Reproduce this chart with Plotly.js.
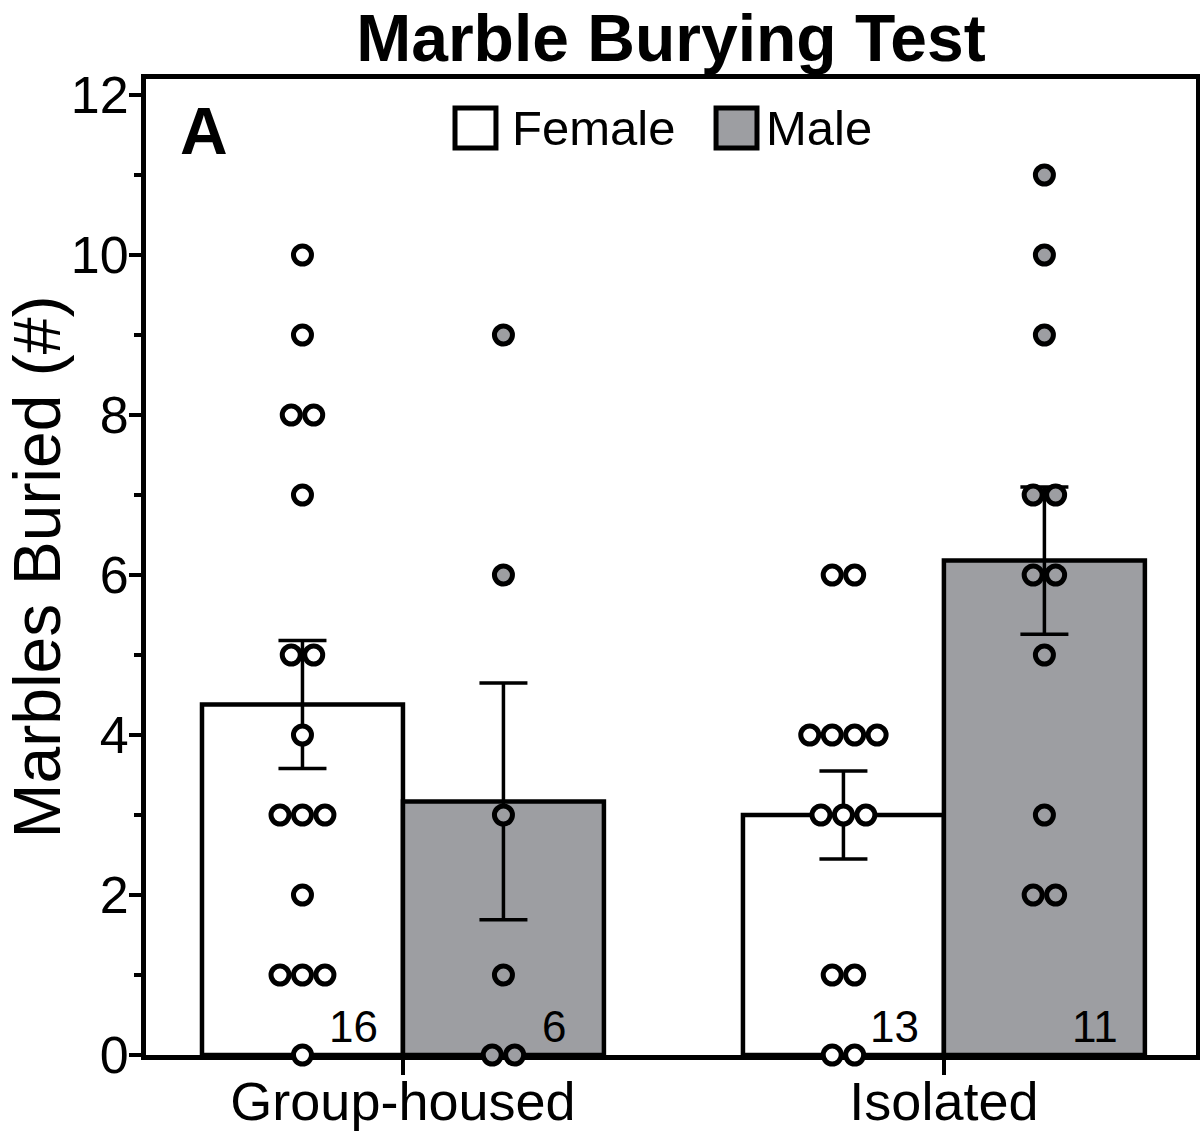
<!DOCTYPE html>
<html>
<head>
<meta charset="utf-8">
<script src="https://cdn.plot.ly/plotly-3.0.1.min.js"></script>
<style>html,body{margin:0;padding:0;background:#fff;}#chart{width:1200px;height:1131px;}</style>
</head>
<body>
<div id="chart"></div>
<script>
// ---- data ----
const categories = ['Group-housed', 'Isolated'];
const seriesNames = ['Female', 'Male'];
const femaleGroupHoused = [10, 9, 8, 8, 7, 5, 5, 4, 3, 3, 3, 2, 1, 1, 1, 0];
const maleGroupHoused = [9, 6, 3, 1, 0, 0];
const femaleIsolated = [6, 6, 4, 4, 4, 4, 3, 3, 3, 1, 1, 0, 0];
const maleIsolated = [11, 10, 9, 7, 7, 6, 6, 5, 3, 2, 2];
const femaleMean = [4.38, 3.0];
const maleMean = [3.17, 6.18];
const femaleSem = [0.80, 0.55];
const maleSem = [1.48, 0.92];
const yTickVals = [0, 2, 4, 6, 8, 10, 12];
const panelLabel = 'A';
const chartTitle = 'Marble Burying Test';
const yTitle = 'Marbles Buried (#)';

// ---- styling / layout constants ----
const FONT = 'Liberation Sans, Arial, sans-serif';
const GRAY = '#9d9ea2';
const BARGAP = 0.257;
const BW = (1 - BARGAP) / 2;      // width of one bar in x units
const DOT_STEP = 0.0415;          // horizontal step between tied points

function spread(values, center) {
  const counts = {}, seen = {};
  values.forEach(v => { counts[v] = (counts[v] || 0) + 1; });
  return values.map(v => {
    const i = seen[v] || 0; seen[v] = i + 1;
    return center + (i - (counts[v] - 1) / 2) * DOT_STEP;
  });
}

const catX = categories.map((c, i) => i);
const femalePts = [femaleGroupHoused, femaleIsolated];
const malePts = [maleGroupHoused, maleIsolated];

function dotTrace(groups, offset, fill) {
  let xs = [], ys = [];
  groups.forEach((vals, i) => {
    xs = xs.concat(spread(vals, catX[i] + offset));
    ys = ys.concat(vals);
  });
  return {
    type: 'scatter', mode: 'markers', x: xs, y: ys, showlegend: false,
    cliponaxis: false, hoverinfo: 'y',
    marker: {symbol: 'circle', size: 18, color: fill, line: {color: '#000', width: 5}}
  };
}

const traces = [
  {
    type: 'bar', name: seriesNames[0], x: catX, y: femaleMean, showlegend: false,
    marker: {color: '#ffffff', line: {color: '#000', width: 4.5}},
    error_y: {type: 'data', array: femaleSem, visible: true, color: '#000', thickness: 3.5, width: 24}
  },
  {
    type: 'bar', name: seriesNames[1], x: catX, y: maleMean, showlegend: false,
    marker: {color: GRAY, line: {color: '#000', width: 4.5}},
    error_y: {type: 'data', array: maleSem, visible: true, color: '#000', thickness: 3.5, width: 24}
  },
  dotTrace(femalePts, -BW / 2, '#ffffff'),
  dotTrace(malePts, BW / 2, GRAY)
];

// n labels, from the number of points per group
const annotations = [];
[femalePts, malePts].forEach((groups, s) => {
  groups.forEach((vals, i) => {
    annotations.push({
      x: catX[i] + (s === 0 ? -BW / 2 : BW / 2) + 0.094, y: 0.36,
      xref: 'x', yref: 'y', text: String(vals.length), showarrow: false,
      font: {family: FONT, size: 44, color: '#000'}, xanchor: 'center', yanchor: 'middle'
    });
  });
});
annotations.push({
  x: 0.0552, y: 0.9467, xref: 'paper', yref: 'paper', text: '<b>' + panelLabel + '</b>',
  showarrow: false, font: {family: FONT, size: 66, color: '#000'}, xanchor: 'center', yanchor: 'middle'
});
// custom legend
const legendItems = [
  {name: seriesNames[0], fill: '#ffffff', x0: 0.2943, x1: 0.3333, tx: 0.3465},
  {name: seriesNames[1], fill: GRAY, x0: 0.5429, x1: 0.5819, tx: 0.5884}
];
const shapes = [];
legendItems.forEach(it => {
  shapes.push({type: 'rect', xref: 'paper', yref: 'paper', x0: it.x0, x1: it.x1, y0: 0.9293, y1: 0.9703,
    fillcolor: it.fill, line: {color: '#000', width: 5}});
  annotations.push({x: it.tx, y: 0.9498, xref: 'paper', yref: 'paper', text: it.name, showarrow: false,
    font: {family: FONT, size: 49, color: '#000'}, xanchor: 'left', yanchor: 'middle'});
});

const layout = {
  width: 1200, height: 1131,
  margin: {l: 146, r: 4, t: 79, b: 76},
  paper_bgcolor: '#fff', plot_bgcolor: '#fff',
  font: {family: FONT, color: '#000'},
  barmode: 'group', bargap: BARGAP, bargroupgap: 0,
  title: {text: '<b>' + chartTitle + '</b>', font: {family: FONT, size: 66, color: '#000'},
    x: 0.5, xref: 'paper', y: 1, yref: 'paper', yanchor: 'bottom', pad: {b: 18}},
  xaxis: {
    range: [-0.475, 1.466], tickvals: catX, ticktext: categories,
    showline: true, linewidth: 5, linecolor: '#000', mirror: true,
    ticks: 'outside', ticklen: 15, tickwidth: 4, tickcolor: '#000',
    tickfont: {family: FONT, size: 54, color: '#000'}, ticklabelstandoff: -20,
    showgrid: false, zeroline: false, layer: 'below traces', fixedrange: true
  },
  yaxis: {
    range: [0, 12.2], tickvals: yTickVals,
    showline: true, linewidth: 5, linecolor: '#000', mirror: true,
    ticks: 'outside', ticklen: 12, tickwidth: 4, tickcolor: '#000',
    tickfont: {family: FONT, size: 52, color: '#000'}, ticklabelstandoff: -10,
    minor: {dtick: 1, ticks: 'outside', ticklen: 7, tickwidth: 4, tickcolor: '#000', showgrid: false},
    title: {text: yTitle, font: {family: FONT, size: 66, color: '#000'}, standoff: 33},
    showgrid: false, zeroline: false, layer: 'below traces', fixedrange: true
  },
  annotations: annotations,
  shapes: shapes,
  showlegend: false
};

Plotly.newPlot('chart', traces, layout, {displayModeBar: false, staticPlot: true});
</script>
</body>
</html>
